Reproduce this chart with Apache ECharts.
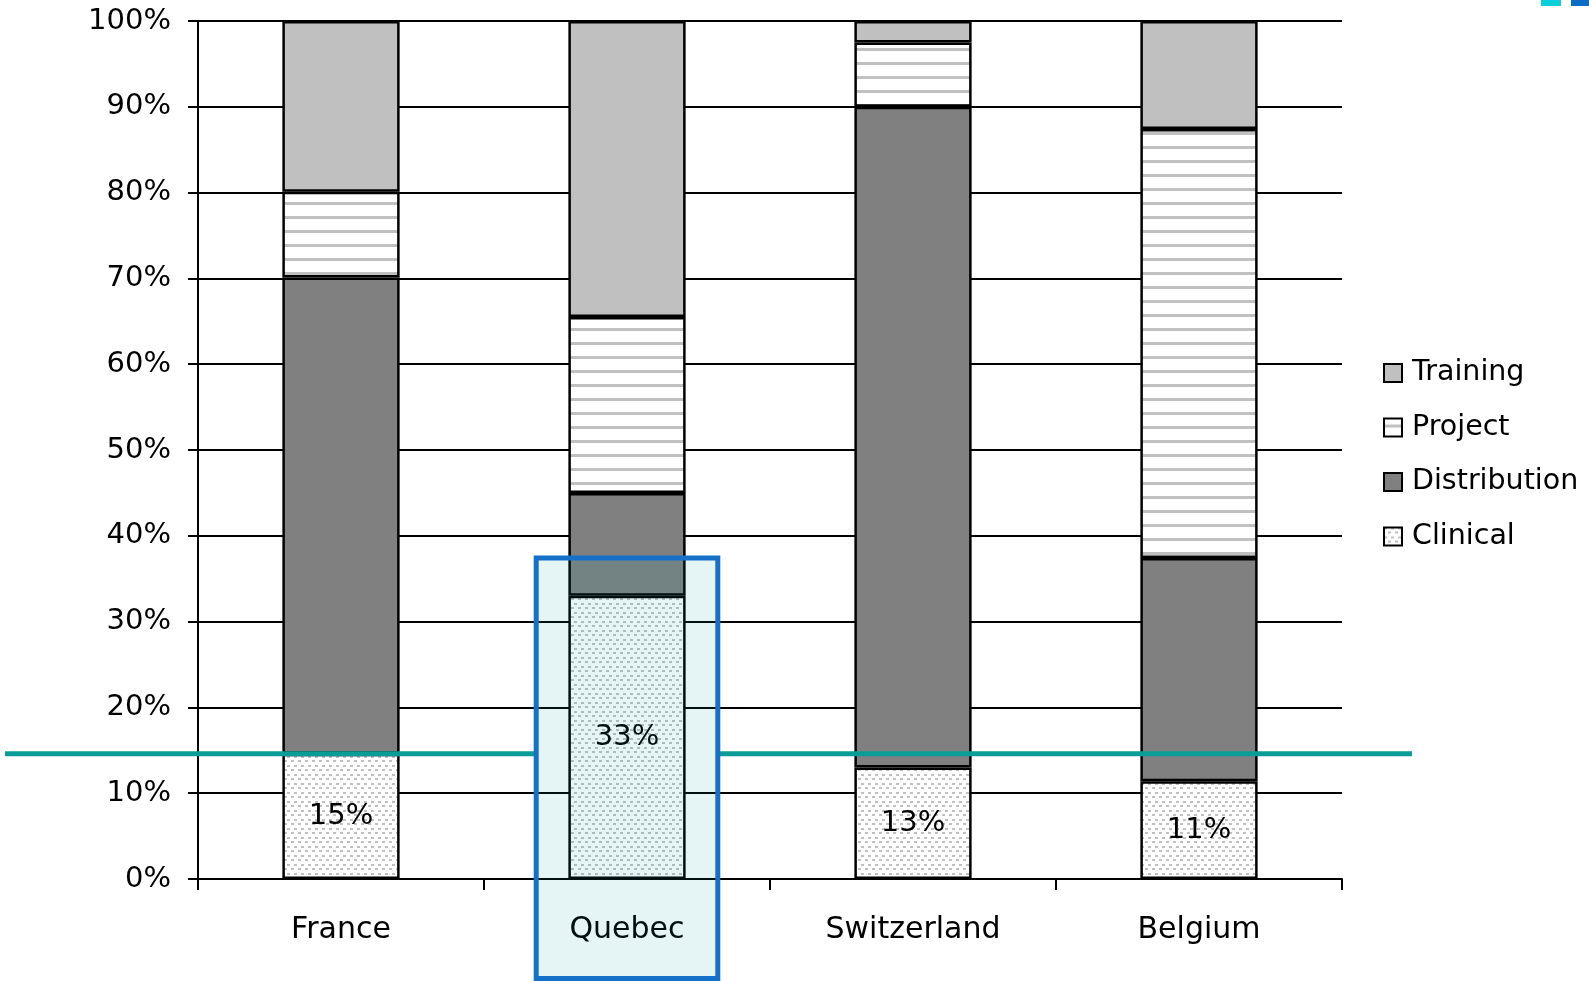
<!DOCTYPE html>
<html>
<head>
<meta charset="utf-8">
<script src="https://cdn.jsdelivr.net/npm/echarts@6/dist/echarts.min.js"></script>
<style>
html,body{margin:0;padding:0;background:#fff;}
#chart{width:1589px;height:981px;}
</style>
</head>
<body>
<div id="chart"></div>
<script>
const categories = ['France', 'Quebec', 'Switzerland', 'Belgium'];
const clinical = [14.6, 33, 13, 11.4];
const distribution = [55.5, 12, 77, 26];
const project = [10, 20.5, 7.5, 50];
const training = [19.9, 34.5, 2.5, 12.6];
const legendOrder = ['Training', 'Project', 'Distribution', 'Clinical'];
const thresholdValue = 14.6;
const highlightCategory = 'Quebec';
const highlightTopValue = 37.4;

const FONT = 'DejaVu Sans';

function makeStripes() {
  const c = document.createElement('canvas');
  c.width = 8; c.height = 14;
  const ctx = c.getContext('2d');
  ctx.fillStyle = '#ffffff'; ctx.fillRect(0, 0, 8, 14);
  ctx.fillStyle = '#c0c0c0'; ctx.fillRect(0, 6, 8, 3);
  return c;
}
function makeDots() {
  const c = document.createElement('canvas');
  c.width = 7; c.height = 9;
  const ctx = c.getContext('2d');
  ctx.fillStyle = '#ffffff'; ctx.fillRect(0, 0, 7, 9);
  ctx.fillStyle = '#c0c0c0';
  ctx.fillRect(0, 0, 3, 2);
  ctx.fillRect(4, 4, 3, 2);
  return c;
}

const chart = echarts.init(document.getElementById('chart'), null, {renderer: 'canvas'});

const barBorder = {borderColor: '#000', borderWidth: 2.5};

const option = {
  animation: false,
  backgroundColor: '#fff',
  grid: {left: 198, top: 21, right: 247, bottom: 102, containLabel: false},
  legend: {
    orient: 'vertical',
    left: 1378,
    top: 353,
    data: legendOrder,
    icon: 'rect',
    itemWidth: 18,
    itemHeight: 18,
    itemGap: 24.5,
    itemStyle: {borderColor: '#000', borderWidth: 2},
    textStyle: {fontFamily: FONT, fontSize: 28.5, color: '#000', lineHeight: 30, padding: [0, 0, 0, 5]}
  },
  xAxis: {
    type: 'category',
    data: categories,
    axisLine: {lineStyle: {color: '#000', width: 2}},
    axisTick: {show: true, length: 11, lineStyle: {color: '#000', width: 2}},
    axisLabel: {fontFamily: FONT, fontSize: 30, color: '#000', margin: 36}
  },
  yAxis: {
    type: 'value',
    min: 0, max: 100, interval: 10,
    axisLine: {show: true, lineStyle: {color: '#000', width: 2}},
    axisTick: {show: true, length: 10, lineStyle: {color: '#000', width: 2}},
    axisLabel: {fontFamily: FONT, fontSize: 29, color: '#000', margin: 27, formatter: '{value}%'},
    splitLine: {show: true, lineStyle: {color: '#000', width: 2}}
  },
  series: [
    {
      name: 'Clinical', type: 'bar', stack: 'total', data: clinical,
      barCategoryGap: '59%',
      itemStyle: Object.assign({color: {image: makeDots(), repeat: 'repeat'}}, barBorder),
      label: {show: true, position: 'inside', fontFamily: FONT, fontSize: 29, color: '#000',
        formatter: p => Math.round(p.value) + '%'}
    },
    {
      name: 'Distribution', type: 'bar', stack: 'total', data: distribution,
      itemStyle: Object.assign({color: '#808080'}, barBorder)
    },
    {
      name: 'Project', type: 'bar', stack: 'total', data: project,
      itemStyle: Object.assign({color: {image: makeStripes(), repeat: 'repeat'}}, barBorder)
    },
    {
      name: 'Training', type: 'bar', stack: 'total', data: training,
      itemStyle: Object.assign({color: '#c0c0c0'}, barBorder)
    }
  ]
};
chart.setOption(option);

// Overlay annotations computed from the axes
const yLine = chart.convertToPixel({yAxisIndex: 0}, thresholdValue);
const cx = chart.convertToPixel({xAxisIndex: 0}, highlightCategory);
const cx0 = chart.convertToPixel({xAxisIndex: 0}, categories[0]);
const cx1 = chart.convertToPixel({xAxisIndex: 0}, categories[1]);
const catW = cx1 - cx0;
const rectW = catW * 0.635;
const rectTop = chart.convertToPixel({yAxisIndex: 0}, highlightTopValue);
const rectLeft = cx - rectW / 2;
const rectRight = cx + rectW / 2;
const H = chart.getHeight();
const W = chart.getWidth();
const gridRight = W - 247;

chart.setOption({
  graphic: [
    {type: 'line', z: 100, shape: {x1: 5, y1: yLine, x2: rectLeft - 2, y2: yLine},
      style: {stroke: '#0c9c98', lineWidth: 5}},
    {type: 'line', z: 100, shape: {x1: rectRight + 2, y1: yLine, x2: gridRight + 70, y2: yLine},
      style: {stroke: '#0c9c98', lineWidth: 5}},
    {type: 'rect', z: 101, shape: {x: rectLeft, y: rectTop, width: rectW, height: H - 2.5 - rectTop},
      style: {fill: 'rgba(0,150,150,0.10)', stroke: '#1470c8', lineWidth: 5}},
    {type: 'rect', z: 101, shape: {x: W - 48, y: 0, width: 20, height: 6}, style: {fill: '#0bd0d9'}},
    {type: 'rect', z: 101, shape: {x: W - 18, y: 0, width: 18, height: 6}, style: {fill: '#0c6cc6'}}
  ]
});
</script>
</body>
</html>
